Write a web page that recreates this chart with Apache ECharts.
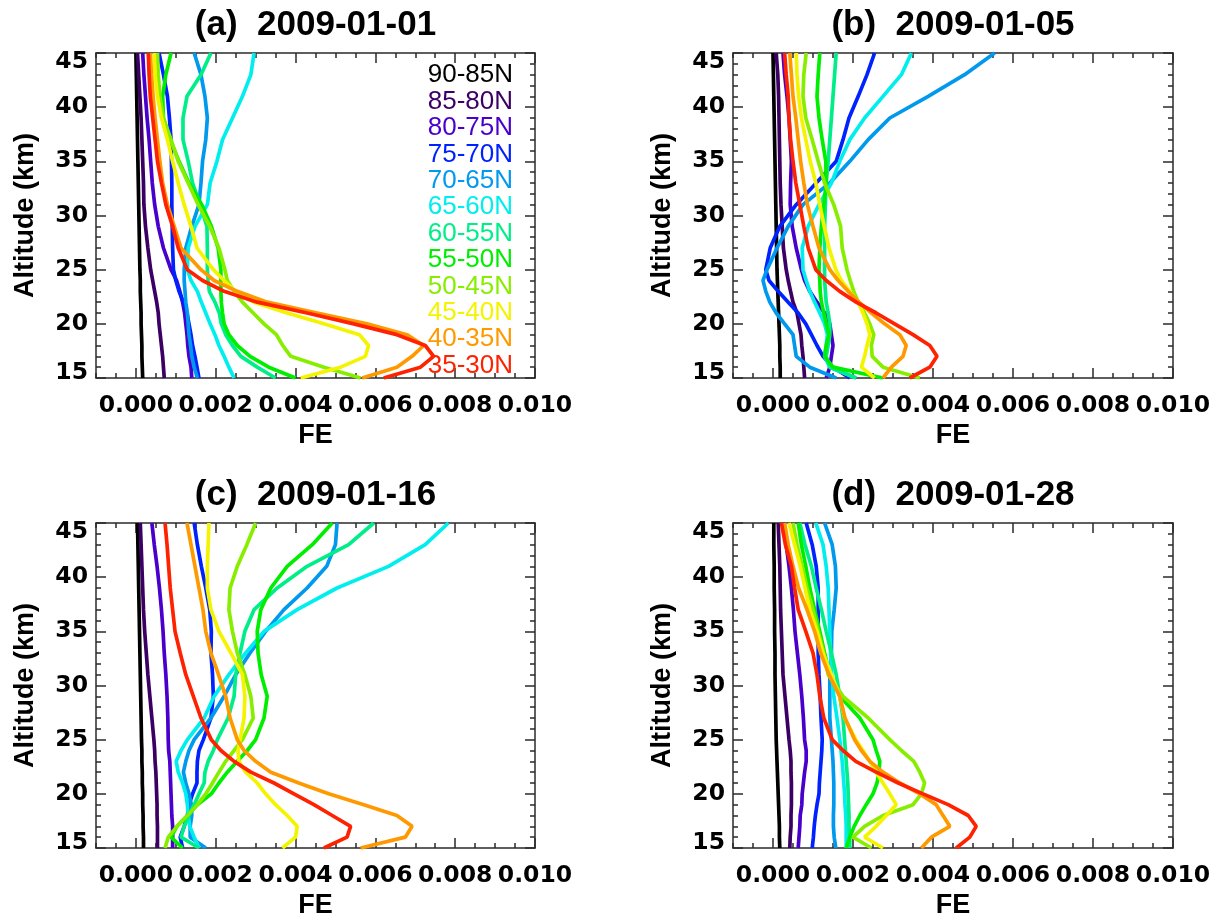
<!DOCTYPE html>
<html><head><meta charset="utf-8">
<script src="https://cdn.jsdelivr.net/npm/echarts@6/dist/echarts.min.js"></script>
<style>html,body{margin:0;padding:0;background:#fff}#c{width:1217px;height:921px}</style>
</head><body><div id="c"></div>
<script>
// Altitude levels (km), top to bottom
const ALTITUDE = [45,43,41,39,37,35,33,31,29,27,25,24,23,22,21,20,19,18,17,16,15];
const BANDS = ['90-85N','85-80N','80-75N','75-70N','70-65N','65-60N','60-55N','55-50N','50-45N','45-40N','40-35N','35-30N'];
const COLORS = ['#000000','#3c0064','#4a00cc','#0022ff','#0099ee','#00eeee','#00ee88','#00ee00','#88ee00','#f4f400','#ff9900','#ff2200'];
const TAGS = ['(a)','(b)','(c)','(d)'];
const DATES = ['2009-01-01','2009-01-05','2009-01-16','2009-01-28'];
const X_TICKS = [0.000,0.002,0.004,0.006,0.008,0.010];

// Panel (a) 2009-01-01
const A_9085 = [0.00000,0.00001,0.00002,0.00003,0.00004,0.00005,0.00006,0.00007,0.00008,0.00009,0.00010,0.00011,0.00011,0.00012,0.00013,0.00013,0.00014,0.00015,0.00015,0.00016,0.00017];
const A_8580 = [0.00004,0.00007,0.00010,0.00013,0.00015,0.00017,0.00019,0.00020,0.00024,0.00030,0.00037,0.00042,0.00047,0.00052,0.00056,0.00058,0.00061,0.00064,0.00067,0.00069,0.00071];
const A_8075 = [0.00017,0.00020,0.00024,0.00028,0.00033,0.00037,0.00041,0.00047,0.00056,0.00069,0.00088,0.00102,0.00110,0.00117,0.00122,0.00125,0.00128,0.00130,0.00133,0.00138,0.00140];
const A_7570 = [0.00058,0.00069,0.00079,0.00084,0.00088,0.00089,0.00090,0.00090,0.00091,0.00092,0.00094,0.00100,0.00108,0.00119,0.00128,0.00133,0.00138,0.00142,0.00148,0.00153,0.00158];
const A_7065 = [0.00146,0.00163,0.00173,0.00179,0.00175,0.00167,0.00163,0.00158,0.00140,0.00125,0.00121,0.00121,0.00123,0.00125,0.00129,0.00131,0.00133,0.00137,0.00140,0.00146,0.00154];
const A_6560 = [0.00296,0.00288,0.00267,0.00242,0.00217,0.00203,0.00186,0.00179,0.00148,0.00131,0.00129,0.00138,0.00154,0.00164,0.00175,0.00186,0.00198,0.00208,0.00221,0.00233,0.00246];
const A_6055 = [0.00188,0.00163,0.00128,0.00118,0.00118,0.00131,0.00142,0.00161,0.00178,0.00179,0.00179,0.00181,0.00184,0.00198,0.00209,0.00214,0.00225,0.00242,0.00263,0.00304,0.00350];
const A_5550 = [0.00088,0.00075,0.00067,0.00069,0.00086,0.00108,0.00133,0.00165,0.00189,0.00206,0.00213,0.00213,0.00213,0.00214,0.00217,0.00221,0.00233,0.00254,0.00286,0.00333,0.00400];
const A_5045 = [0.00054,0.00056,0.00060,0.00069,0.00088,0.00106,0.00131,0.00156,0.00185,0.00208,0.00223,0.00229,0.00246,0.00267,0.00294,0.00321,0.00352,0.00368,0.00388,0.00471,0.00563];
const A_4540 = [0.00046,0.00048,0.00054,0.00064,0.00079,0.00092,0.00106,0.00121,0.00138,0.00153,0.00194,0.00221,0.00250,0.00296,0.00379,0.00471,0.00560,0.00583,0.00575,0.00513,0.00413];
const A_4035 = [0.00036,0.00039,0.00043,0.00048,0.00054,0.00060,0.00067,0.00079,0.00096,0.00113,0.00163,0.00196,0.00254,0.00329,0.00454,0.00579,0.00679,0.00721,0.00692,0.00654,0.00567];
const A_3530 = [0.00031,0.00033,0.00036,0.00042,0.00048,0.00054,0.00064,0.00075,0.00092,0.00106,0.00129,0.00167,0.00221,0.00304,0.00429,0.00546,0.00654,0.00725,0.00746,0.00713,0.00621];

// Panel (b) 2009-01-05
const B_9085 = [0.00000,0.00001,0.00002,0.00003,0.00004,0.00005,0.00006,0.00007,0.00008,0.00009,0.00010,0.00011,0.00012,0.00013,0.00014,0.00015,0.00016,0.00017,0.00017,0.00018,0.00018];
const B_8580 = [0.00008,0.00012,0.00014,0.00015,0.00016,0.00017,0.00018,0.00020,0.00023,0.00026,0.00033,0.00038,0.00044,0.00050,0.00060,0.00065,0.00070,0.00072,0.00075,0.00077,0.00079];
const B_8075 = [0.00025,0.00029,0.00035,0.00040,0.00043,0.00046,0.00044,0.00043,0.00048,0.00058,0.00071,0.00079,0.00092,0.00110,0.00129,0.00142,0.00146,0.00150,0.00146,0.00142,0.00133];
const B_7570 = [0.00254,0.00235,0.00213,0.00190,0.00175,0.00158,0.00108,0.00058,0.00017,-0.00007,-0.00018,-0.00010,0.00013,0.00038,0.00063,0.00082,0.00096,0.00110,0.00125,0.00150,0.00192];
const B_7065 = [0.00554,0.00479,0.00388,0.00292,0.00238,0.00192,0.00142,0.00075,0.00038,0.00010,-0.00015,-0.00025,-0.00018,-0.00008,0.00008,0.00029,0.00050,0.00054,0.00058,0.00092,0.00158];
const B_6560 = [0.00346,0.00321,0.00275,0.00229,0.00192,0.00167,0.00146,0.00115,0.00088,0.00073,0.00075,0.00083,0.00092,0.00104,0.00117,0.00129,0.00136,0.00133,0.00129,0.00142,0.00208];
const B_6055 = [0.00158,0.00154,0.00150,0.00146,0.00142,0.00138,0.00133,0.00131,0.00129,0.00129,0.00129,0.00129,0.00131,0.00133,0.00138,0.00142,0.00142,0.00138,0.00133,0.00142,0.00208];
const B_5550 = [0.00117,0.00113,0.00110,0.00115,0.00123,0.00132,0.00133,0.00127,0.00121,0.00117,0.00115,0.00117,0.00118,0.00121,0.00127,0.00133,0.00140,0.00133,0.00129,0.00150,0.00275];
const B_5045 = [0.00083,0.00077,0.00075,0.00082,0.00098,0.00113,0.00129,0.00152,0.00169,0.00173,0.00185,0.00193,0.00202,0.00213,0.00229,0.00242,0.00252,0.00246,0.00248,0.00275,0.00367];
const B_4540 = [0.00058,0.00060,0.00064,0.00071,0.00082,0.00093,0.00107,0.00117,0.00128,0.00140,0.00157,0.00171,0.00192,0.00213,0.00225,0.00235,0.00242,0.00235,0.00229,0.00221,0.00254];
const B_4035 = [0.00042,0.00046,0.00050,0.00057,0.00063,0.00069,0.00077,0.00086,0.00100,0.00115,0.00142,0.00163,0.00188,0.00215,0.00246,0.00279,0.00317,0.00333,0.00325,0.00296,0.00275];
const B_3530 = [0.00029,0.00033,0.00038,0.00040,0.00044,0.00050,0.00057,0.00067,0.00077,0.00088,0.00107,0.00133,0.00167,0.00208,0.00258,0.00304,0.00350,0.00392,0.00410,0.00392,0.00342];

// Panel (c) 2009-01-16
const C_9085 = [0.00004,0.00005,0.00006,0.00007,0.00008,0.00009,0.00010,0.00011,0.00012,0.00013,0.00014,0.00015,0.00015,0.00016,0.00016,0.00017,0.00017,0.00018,0.00018,0.00019,0.00019];
const C_8580 = [0.00011,0.00013,0.00015,0.00017,0.00019,0.00022,0.00026,0.00030,0.00035,0.00040,0.00045,0.00047,0.00048,0.00050,0.00051,0.00052,0.00053,0.00053,0.00054,0.00054,0.00054];
const C_8075 = [0.00040,0.00046,0.00053,0.00059,0.00064,0.00068,0.00071,0.00075,0.00078,0.00080,0.00081,0.00082,0.00085,0.00086,0.00087,0.00088,0.00089,0.00090,0.00092,0.00092,0.00092];
const C_7570 = [0.00146,0.00154,0.00164,0.00175,0.00185,0.00189,0.00188,0.00192,0.00194,0.00188,0.00169,0.00158,0.00154,0.00153,0.00153,0.00142,0.00133,0.00129,0.00121,0.00111,0.00117];
const C_7065 = [0.00504,0.00500,0.00478,0.00429,0.00371,0.00325,0.00286,0.00250,0.00221,0.00188,0.00146,0.00133,0.00125,0.00119,0.00125,0.00133,0.00139,0.00140,0.00136,0.00136,0.00175];
const C_6560 = [0.00783,0.00725,0.00633,0.00504,0.00404,0.00321,0.00275,0.00233,0.00196,0.00171,0.00129,0.00113,0.00101,0.00106,0.00117,0.00125,0.00129,0.00131,0.00135,0.00146,0.00158];
const C_6055 = [0.00596,0.00533,0.00429,0.00354,0.00296,0.00273,0.00261,0.00250,0.00246,0.00231,0.00204,0.00194,0.00181,0.00173,0.00171,0.00158,0.00146,0.00133,0.00121,0.00113,0.00158];
const C_5550 = [0.00492,0.00442,0.00379,0.00338,0.00313,0.00304,0.00306,0.00314,0.00329,0.00321,0.00300,0.00279,0.00254,0.00229,0.00208,0.00189,0.00154,0.00129,0.00103,0.00088,0.00117];
const C_5045 = [0.00300,0.00278,0.00254,0.00236,0.00233,0.00242,0.00254,0.00273,0.00288,0.00294,0.00267,0.00246,0.00225,0.00208,0.00192,0.00175,0.00154,0.00129,0.00103,0.00081,0.00073];
const C_4540 = [0.00183,0.00181,0.00179,0.00179,0.00188,0.00208,0.00238,0.00267,0.00273,0.00271,0.00261,0.00256,0.00258,0.00275,0.00304,0.00325,0.00350,0.00379,0.00404,0.00400,0.00367];
const C_4035 = [0.00128,0.00138,0.00148,0.00158,0.00168,0.00175,0.00188,0.00207,0.00225,0.00236,0.00254,0.00271,0.00300,0.00338,0.00408,0.00483,0.00571,0.00654,0.00692,0.00675,0.00563];
const C_3530 = [0.00073,0.00078,0.00082,0.00086,0.00092,0.00098,0.00111,0.00125,0.00144,0.00163,0.00189,0.00213,0.00246,0.00288,0.00346,0.00396,0.00446,0.00492,0.00538,0.00529,0.00471];

// Panel (d) 2009-01-28
const D_9085 = [0.00002,0.00002,0.00003,0.00003,0.00004,0.00004,0.00005,0.00005,0.00006,0.00007,0.00008,0.00009,0.00010,0.00011,0.00012,0.00013,0.00014,0.00015,0.00016,0.00016,0.00017];
const D_8580 = [0.00013,0.00015,0.00017,0.00018,0.00019,0.00021,0.00023,0.00025,0.00030,0.00035,0.00040,0.00043,0.00045,0.00045,0.00046,0.00046,0.00046,0.00045,0.00045,0.00043,0.00042];
const D_8075 = [0.00025,0.00033,0.00040,0.00046,0.00051,0.00055,0.00061,0.00067,0.00072,0.00076,0.00079,0.00083,0.00083,0.00079,0.00076,0.00073,0.00072,0.00068,0.00067,0.00065,0.00063];
const D_7570 = [0.00083,0.00098,0.00108,0.00113,0.00113,0.00113,0.00113,0.00115,0.00118,0.00120,0.00123,0.00122,0.00120,0.00118,0.00116,0.00115,0.00110,0.00106,0.00103,0.00101,0.00098];
const D_7065 = [0.00129,0.00148,0.00156,0.00158,0.00153,0.00147,0.00146,0.00142,0.00142,0.00142,0.00146,0.00148,0.00150,0.00151,0.00152,0.00152,0.00152,0.00151,0.00151,0.00153,0.00157];
const D_6560 = [0.00107,0.00125,0.00133,0.00138,0.00140,0.00142,0.00144,0.00147,0.00152,0.00160,0.00167,0.00170,0.00173,0.00175,0.00177,0.00179,0.00180,0.00182,0.00183,0.00183,0.00183];
const D_6055 = [0.00067,0.00080,0.00096,0.00108,0.00121,0.00133,0.00146,0.00158,0.00167,0.00175,0.00179,0.00181,0.00183,0.00185,0.00187,0.00188,0.00189,0.00190,0.00190,0.00192,0.00192];
const D_5550 = [0.00063,0.00071,0.00082,0.00092,0.00104,0.00117,0.00129,0.00142,0.00167,0.00217,0.00250,0.00258,0.00267,0.00265,0.00260,0.00250,0.00233,0.00217,0.00203,0.00192,0.00183];
const D_5045 = [0.00050,0.00060,0.00073,0.00085,0.00100,0.00113,0.00127,0.00138,0.00175,0.00238,0.00292,0.00321,0.00352,0.00367,0.00379,0.00371,0.00350,0.00275,0.00229,0.00200,0.00246];
const D_4540 = [0.00040,0.00054,0.00068,0.00080,0.00092,0.00110,0.00125,0.00146,0.00167,0.00179,0.00207,0.00225,0.00242,0.00258,0.00275,0.00292,0.00308,0.00283,0.00258,0.00229,0.00275];
const D_4035 = [0.00029,0.00038,0.00050,0.00064,0.00085,0.00104,0.00119,0.00140,0.00167,0.00180,0.00204,0.00221,0.00242,0.00275,0.00317,0.00367,0.00408,0.00425,0.00442,0.00396,0.00371];
const D_3530 = [0.00021,0.00031,0.00046,0.00054,0.00063,0.00082,0.00100,0.00110,0.00117,0.00127,0.00148,0.00175,0.00207,0.00258,0.00313,0.00375,0.00438,0.00488,0.00508,0.00492,0.00458];

const PANELS = [
  [A_9085,A_8580,A_8075,A_7570,A_7065,A_6560,A_6055,A_5550,A_5045,A_4540,A_4035,A_3530],
  [B_9085,B_8580,B_8075,B_7570,B_7065,B_6560,B_6055,B_5550,B_5045,B_4540,B_4035,B_3530],
  [C_9085,C_8580,C_8075,C_7570,C_7065,C_6560,C_6055,C_5550,C_5045,C_4540,C_4035,C_3530],
  [D_9085,D_8580,D_8075,D_7570,D_7065,D_6560,D_6055,D_5550,D_5045,D_4540,D_4035,D_3530]
];

const GRIDS = [
  {left:96, top:53, width:439, height:325},
  {left:733, top:53, width:440, height:325},
  {left:96, top:523, width:439, height:325},
  {left:733, top:523, width:440, height:325}
];

const AX = '#2a2a2a';
const AXW = 1.5;
const LABEL_FONT = {fontFamily:'DejaVu Sans', fontWeight:'bold', fontSize:23.5, color:'#000'};
const NAME_FONT = {fontFamily:'Liberation Sans', fontWeight:'bold', fontSize:27, color:'#000'};

const xAxes = [], yAxes = [], series = [], graphics = [];
GRIDS.forEach((g, p) => {
  const base = {gridIndex:p, type:'value', min:-0.001, max:0.010, splitLine:{show:false}};
  xAxes.push(Object.assign({}, base, {
    position:'bottom',
    axisLine:{onZero:false, lineStyle:{color:AX, width:AXW}},
    axisTick:{inside:true, length:10, customValues:X_TICKS, lineStyle:{color:AX, width:AXW}},
    axisLabel:Object.assign({customValues:X_TICKS, margin:16, formatter:v => v.toFixed(3)}, LABEL_FONT),
    name:'FE', nameLocation:'middle', nameGap:44, nameTextStyle:NAME_FONT
  }));
  xAxes.push(Object.assign({}, base, {
    position:'bottom', interval:0.0005,
    axisLine:{show:false, onZero:false},
    axisTick:{inside:true, length:5, lineStyle:{color:AX, width:AXW}},
    axisLabel:{show:false}
  }));
  xAxes.push(Object.assign({}, base, {
    position:'top',
    axisLine:{onZero:false, lineStyle:{color:AX, width:AXW}},
    axisTick:{inside:true, length:10, customValues:X_TICKS, lineStyle:{color:AX, width:AXW}},
    axisLabel:{show:false}
  }));
  xAxes.push(Object.assign({}, base, {
    position:'top', interval:0.0005,
    axisLine:{show:false, onZero:false},
    axisTick:{inside:true, length:5, lineStyle:{color:AX, width:AXW}},
    axisLabel:{show:false}
  }));
  const ybase = {gridIndex:p, type:'value', min:15, max:45, interval:5, splitLine:{show:false},
    axisLine:{onZero:false, lineStyle:{color:AX, width:AXW}},
    axisTick:{inside:true, length:10, lineStyle:{color:AX, width:AXW}},
    minorTick:{show:true, splitNumber:5, length:5, lineStyle:{color:AX, width:AXW}}};
  yAxes.push(Object.assign({}, ybase, {
    position:'left',
    axisLabel:Object.assign({margin:8, showMinLabel:true, showMaxLabel:true,
      formatter:v => v === 45 ? '{t|45}' : (v === 15 ? '{b|15}' : String(v)),
      rich:{t:Object.assign({padding:[18,0,0,0]}, LABEL_FONT), b:Object.assign({padding:[0,0,10,0]}, LABEL_FONT)}
    }, LABEL_FONT),
    name:'Altitude (km)', nameLocation:'middle', nameGap:57, nameRotate:90, nameTextStyle:NAME_FONT
  }));
  yAxes.push(Object.assign({}, ybase, {position:'right', axisLabel:{show:false}}));

  PANELS[p].forEach((vals, i) => {
    series.push({
      type:'line', name:BANDS[i], xAxisIndex:4*p, yAxisIndex:2*p,
      data: ALTITUDE.map((a, k) => [vals[k], a]),
      showSymbol:false, symbol:'none', clip:true, silent:true,
      lineStyle:{width:3.7, color:COLORS[i]}, itemStyle:{color:COLORS[i]}
    });
  });

  graphics.push({type:'text', x:g.left + g.width/2, y:g.top - 28,
    style:{text:TAGS[p] + '  ' + DATES[p], fontFamily:'Liberation Sans', fontWeight:'bold', fontSize:35,
      fill:'#000', align:'center', verticalAlign:'middle'}});
});

const chart = echarts.init(document.getElementById('c'), null, {renderer:'canvas'});
chart.setOption({
  animation:false,
  backgroundColor:'#fff',
  grid: GRIDS.map(g => Object.assign({show:false, containLabel:false, outerBoundsMode:'none'}, g)),
  xAxis: xAxes,
  yAxis: yAxes,
  legend: {
    orient:'vertical', right:699, top:62, itemWidth:0, itemHeight:0, itemGap:0, align:'right',
    icon:'rect', selectedMode:false, padding:0,
    textStyle:{fontFamily:'Liberation Sans', fontSize:26, lineHeight:26.4, padding:0},
    data: BANDS.map((b, i) => ({name:b, textStyle:{color:COLORS[i]}}))
  },
  graphic: graphics,
  series: series
});
</script>
</body></html>
